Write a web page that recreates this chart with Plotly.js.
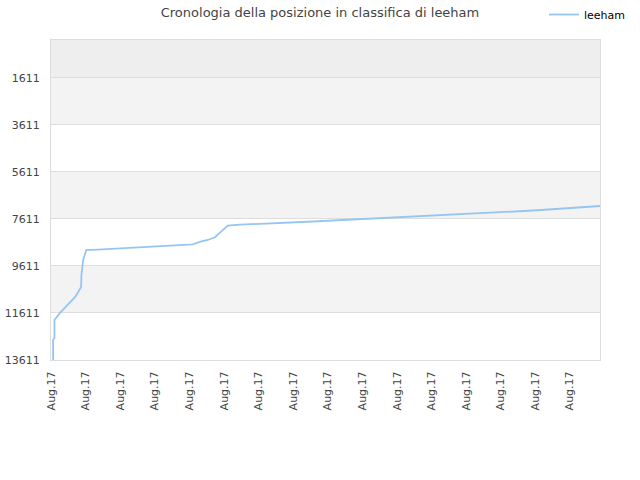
<!DOCTYPE html>
<html>
<head>
<meta charset="utf-8">
<script src="https://cdn.plot.ly/plotly-3.0.1.min.js"></script>
<style>
  body { margin: 0; background: #fff; }
  #chart { width: 640px; height: 480px; }
</style>
</head>
<body>
<div id="chart"></div>
<script>
// posizione in classifica (asse x: indice del tick)
var positionX = [0.06, 0.06, 0.10, 0.10, 0.26, 0.46, 0.70, 0.87, 0.88, 0.93, 0.99, 1.02,
  1.22, 1.76, 2.28, 2.80, 3.33, 3.85, 4.10, 4.30, 4.53, 4.74, 4.88, 5.11, 5.46,
  6.04, 6.64, 7.25, 7.86, 8.47, 9.08, 9.65, 10.20, 10.75, 11.27, 11.85, 12.45,
  13.06, 13.67, 14.17, 14.53, 14.91, 15.29, 15.66, 15.87];
var positionY = [13611, 12760, 12674, 11910, 11610, 11313, 10930, 10505, 9995, 9356, 9016, 8931,
  8931, 8888, 8846, 8816, 8761, 8706, 8689, 8591, 8506, 8391, 8208, 7898, 7855,
  7826, 7783, 7741, 7698, 7656, 7613, 7570, 7528, 7485, 7443, 7400, 7358,
  7315, 7273, 7230, 7188, 7145, 7102, 7060, 7060];

var tickLabels = ['Aug.17', 'Aug.17', 'Aug.17', 'Aug.17', 'Aug.17', 'Aug.17', 'Aug.17', 'Aug.17',
  'Aug.17', 'Aug.17', 'Aug.17', 'Aug.17', 'Aug.17', 'Aug.17', 'Aug.17', 'Aug.17'];
var yTicks = [1611, 3611, 5611, 7611, 9611, 11611, 13611];

var tickPos = tickLabels.map(function(t, i) { return i; });

// fasce alternate dietro al grafico
var bands = [{
  type: 'rect', xref: 'paper', yref: 'y', x0: 0, x1: 1, y0: 0, y1: yTicks[0],
  fillcolor: '#eeeeee', line: {width: 0}, layer: 'below'
}];
for (var i = 0; i < yTicks.length - 1; i += 2) {
  bands.push({
    type: 'rect', xref: 'paper', yref: 'y', x0: 0, x1: 1, y0: yTicks[i], y1: yTicks[i + 1],
    fillcolor: '#f3f3f3', line: {width: 0}, layer: 'below'
  });
}

var data = [
  {
    x: positionX,
    y: positionY,
    type: 'scatter',
    mode: 'lines',
    name: 'leeham',
    line: {
      color: 'rgb(150,197,242)',
      width: 1.8
    }
  }
];

var layout = {
  width: 640,
  height: 480,
  paper_bgcolor: '#fff',
  plot_bgcolor: '#fff',
  title: {
    text: 'Cronologia della posizione in classifica di leeham',
    x: 0.5,
    xref: 'container',
    y: 0.983,
    yref: 'container',
    yanchor: 'top',
    font: {size: 13, color: '#444', family: 'DejaVu Sans, sans-serif'}
  },
  font: {
    color: '#444',
    family: 'DejaVu Sans, sans-serif',
    size: 11
  },
  showlegend: true,
  legend: {
    xref: 'container',
    yref: 'container',
    x: 0.85,
    y: 1.006,
    xanchor: 'left',
    yanchor: 'top',
    font: {size: 11, color: '#000'},
    bgcolor: 'rgba(0,0,0,0)'
  },
  margin: {
    t: 40,
    r: 40,
    b: 120,
    l: 51,
    pad: 0,
    autoexpand: false
  },
  xaxis: {
    range: [0, 15.87],
    tickvals: tickPos,
    ticktext: tickLabels,
    tickangle: -90,
    showgrid: false,
    zeroline: false,
    showline: true,
    linecolor: '#dddddd',
    mirror: true,
    ticks: '',
    automargin: false,
    ticklabelstandoff: 6,
    tickfont: {size: 11, color: '#444'}
  },
  yaxis: {
    range: [13611, 0],
    tickvals: yTicks,
    ticktext: yTicks.map(String),
    gridcolor: '#dddddd',
    zeroline: false,
    showline: true,
    linecolor: '#dddddd',
    mirror: true,
    ticks: '',
    automargin: false,
    ticklabelstandoff: 8,
    tickfont: {size: 11, color: '#444'}
  },
  shapes: bands
};

Plotly.newPlot('chart', data, layout, {displayModeBar: false});
</script>
</body>
</html>
